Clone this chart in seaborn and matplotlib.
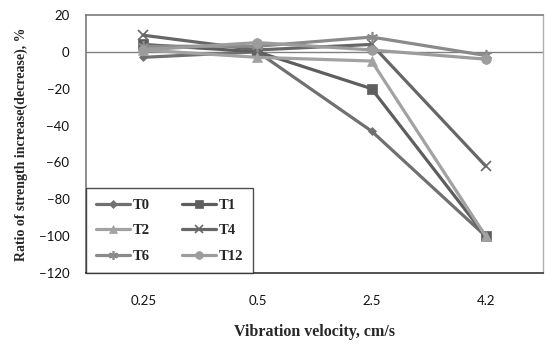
import matplotlib
matplotlib.use("Agg")
import matplotlib.pyplot as plt
import seaborn as sns
import pandas as pd

# Vibration velocity categories (cm/s)
velocity = ["0.25", "0.5", "2.5", "4.2"]

# Ratio of strength increase (decrease), % for each curing group
t0 = [-3, 0, -43, -100]
t1 = [4, 0, -20, -100]
t2 = [1, -3, -5, -100]
t4 = [9, 1, 4, -62]
t6 = [3, 3, 8, -2]
t12 = [1, 5, 1, -4]

groups = ["T0", "T1", "T2", "T4", "T6", "T12"]
series = [t0, t1, t2, t4, t6, t12]

df = pd.DataFrame(
    [(g, v, val) for g, vals in zip(groups, series) for v, val in zip(velocity, vals)],
    columns=["group", "velocity", "ratio"],
)

colors = {
    "T0": "#707070",
    "T1": "#5e5e5e",
    "T2": "#a2a2a2",
    "T4": "#676767",
    "T6": "#8a8a8a",
    "T12": "#9c9c9c",
}
markers = {
    "T0": "D",
    "T1": "s",
    "T2": "^",
    "T4": "x",
    "T6": (6, 2, 0),
    "T12": "o",
}
sizes = {"T0": 4.5, "T1": 6.5, "T2": 6.5, "T4": 7, "T6": 8, "T12": 7}

sns.set_theme(style="white")
plt.rcParams["font.family"] = ["Liberation Serif", "DejaVu Serif"]

fig = plt.figure(figsize=(5.45, 3.47), dpi=100)
ax = fig.add_axes([0.158, 0.213, 0.838, 0.744])

for g in groups:
    sns.lineplot(
        data=df[df["group"] == g],
        x="velocity",
        y="ratio",
        color=colors[g],
        marker=markers[g],
        markersize=sizes[g],
        markeredgewidth=1.2 if g in ("T4", "T6") else 0.5,
        markeredgecolor=colors[g],
        linewidth=2.3,
        sort=False,
        label=g,
        ax=ax,
    )

ax.axhline(0, color="#808080", linewidth=1.0, zorder=0)

ax.set_xlim(-0.5, 3.5)
ax.set_ylim(-120, 20)
ax.set_yticks(range(-120, 21, 20))
ax.tick_params(axis="both", length=0, labelsize=9.5, colors="#111111")
ax.tick_params(axis="x", pad=16)
ax.tick_params(axis="y", pad=12)
for lab in ax.get_xticklabels() + ax.get_yticklabels():
    lab.set_fontfamily("Lato")

for side in ("top", "left"):
    ax.spines[side].set_color("#7a7a7a")
    ax.spines[side].set_linewidth(1.2)
ax.spines["right"].set_color("#b0b0b0")
ax.spines["right"].set_linewidth(1.0)
ax.spines["bottom"].set_color("#333333")
ax.spines["bottom"].set_linewidth(1.2)

ax.set_xlabel("Vibration velocity, cm/s", fontsize=11.5, fontweight="bold", labelpad=12)
ax.set_ylabel("Ratio of strength increase(decrease), %", fontsize=10.0,
              fontweight="bold", labelpad=8)

handles, labels = ax.get_legend_handles_labels()
order = ["T0", "T2", "T6", "T1", "T4", "T12"]
hmap = dict(zip(labels, handles))
leg = ax.legend(
    [hmap[k] for k in order], order,
    ncol=2,
    loc="lower left",
    bbox_to_anchor=(0.0, 0.0),
    borderaxespad=0.0,
    frameon=True,
    fancybox=False,
    edgecolor="#222222",
    prop={"family": "Liberation Serif", "weight": "bold", "size": 10.5},
    handlelength=2.3,
    handletextpad=0.2,
    columnspacing=2.2,
    labelspacing=0.85,
    borderpad=0.7,
    markerscale=0.8,
)
leg.get_frame().set_linewidth(1.0)

fig.savefig("out.png", dpi=100)
